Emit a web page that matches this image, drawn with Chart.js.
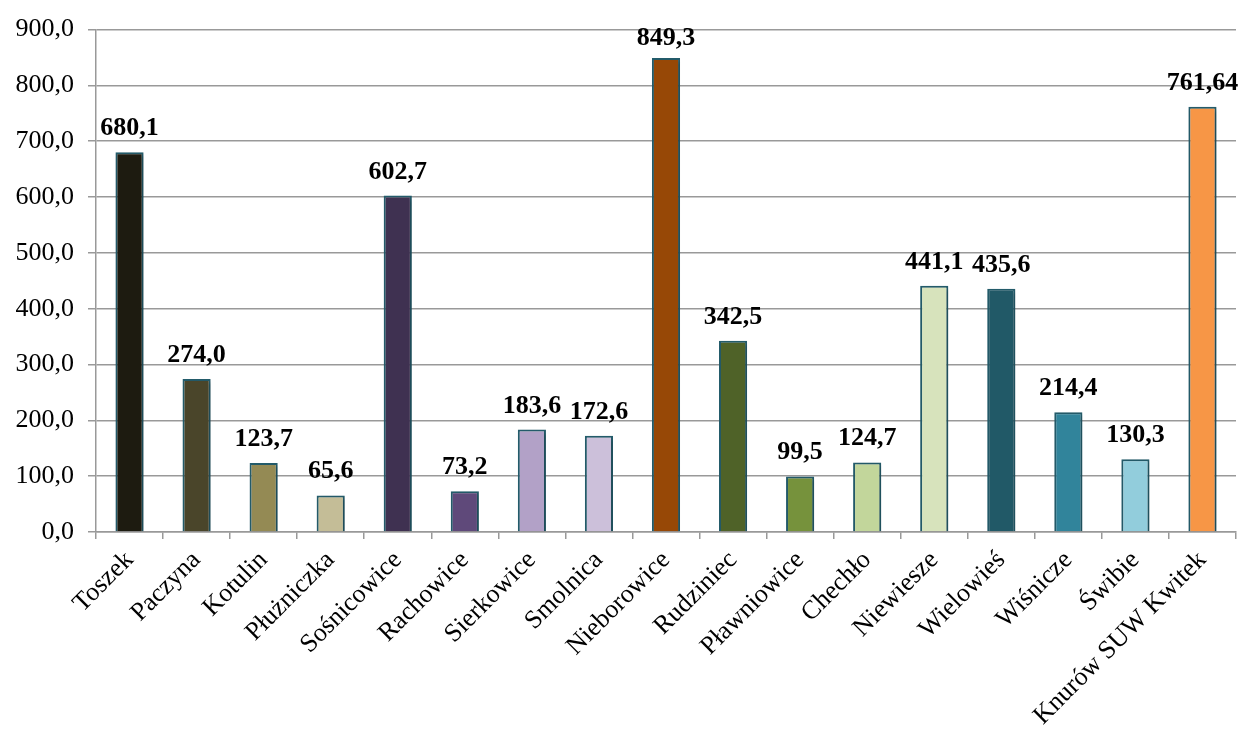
<!DOCTYPE html>
<html>
<head>
<meta charset="utf-8">
<script src="https://cdn.jsdelivr.net/npm/chart.js@4"></script>
<style>
    html, body { margin: 0; padding: 0; background: #fff; }
    #wrap { width: 1241px; height: 733px; position: relative; }
</style>
</head>
<body>
<div id="wrap"><canvas id="grafico"></canvas></div>
<script>
// Miejscowości (ujęcia) i wartości
const miejscowosci = ['Toszek', 'Paczyna', 'Kotulin', 'Płużniczka', 'Sośnicowice', 'Rachowice',
    'Sierkowice', 'Smolnica', 'Nieborowice', 'Rudziniec', 'Pławniowice', 'Chechło',
    'Niewiesze', 'Wielowieś', 'Wiśnicze', 'Świbie', 'Knurów SUW Kwitek'];
const wartosci = [680.1, 274.0, 123.7, 65.6, 602.7, 73.2, 183.6, 172.6, 849.3, 342.5,
    99.5, 124.7, 441.1, 435.6, 214.4, 130.3, 761.64];
const kolory = ['#1D1B10', '#4A452A', '#948A54', '#C4BD97', '#3F3151', '#5F497A',
    '#B2A1C7', '#CCC0DA', '#974806', '#4F6228', '#76923C', '#C2D69B',
    '#D7E3BC', '#215967', '#31849B', '#92CDDC', '#F79646'];
const osY = { min: 0, max: 900, krok: 100 };

const czcionka = '"Liberation Serif", "Times New Roman", serif';

// liczba z przecinkiem, min. jedno miejsce po przecinku
function formatuj(v) {
    let s = v.toFixed(1);
    if (Number(s) !== v) s = v.toFixed(2);
    return s.replace('.', ',');
}

// cień pod słupkami
const cien = {
    id: 'cien',
    beforeDatasetsDraw(chart) {
        const ctx = chart.ctx;
        ctx.save();
        ctx.shadowColor = 'rgba(0,0,0,0.22)';
        ctx.shadowBlur = 4;
        ctx.shadowOffsetX = 2;
        ctx.shadowOffsetY = 2;
    },
    afterDatasetsDraw(chart) {
        chart.ctx.restore();
    }
};

// etykiety wartości nad słupkami
const etykiety = {
    id: 'etykiety',
    afterDraw(chart) {
        const ctx = chart.ctx;
        const meta = chart.getDatasetMeta(0);
        ctx.save();
        ctx.font = 'bold 26px ' + czcionka;
        ctx.fillStyle = '#000';
        ctx.textAlign = 'center';
        ctx.textBaseline = 'alphabetic';
        meta.data.forEach((bar, i) => {
            let y = bar.y - 17;
            if (y < 45) y = 45;
            ctx.fillText(formatuj(wartosci[i]), bar.x, y);
        });
        ctx.restore();
    }
};

const ctx = document.getElementById('grafico').getContext('2d');
new Chart(ctx, {
    type: 'bar',
    data: {
        labels: miejscowosci,
        datasets: [{
            data: wartosci,
            backgroundColor: kolory,
            borderColor: '#245C6B',
            borderWidth: 2,
            categoryPercentage: 1,
            barPercentage: 0.42
        }]
    },
    options: {
        responsive: true,
        maintainAspectRatio: false,
        animation: false,
        layout: { padding: { top: 25, right: 5, left: 0, bottom: 0 } },
        plugins: {
            legend: { display: false },
            tooltip: { enabled: false }
        },
        scales: {
            x: {
                offset: true,
                grid: {
                    drawOnChartArea: false,
                    drawTicks: true,
                    tickLength: 7,
                    color: '#999',
                    lineWidth: 1.5
                },
                border: { color: '#999', width: 1.5 },
                ticks: {
                    minRotation: 45,
                    maxRotation: 45,
                    autoSkip: false,
                    padding: 6,
                    color: '#000',
                    font: { family: czcionka, size: 26 }
                },
                afterFit(scale) { scale.height = 201; }
            },
            y: {
                min: osY.min,
                max: osY.max,
                grid: {
                    color: '#999',
                    lineWidth: 1.5,
                    tickLength: 8
                },
                border: { color: '#999', width: 1.5 },
                ticks: {
                    stepSize: osY.krok,
                    padding: 14,
                    color: '#000',
                    font: { family: czcionka, size: 26 },
                    callback: v => formatuj(v)
                },
                afterFit(scale) { scale.width = 96; }
            }
        }
    },
    plugins: [cien, etykiety]
});
</script>
</body>
</html>
